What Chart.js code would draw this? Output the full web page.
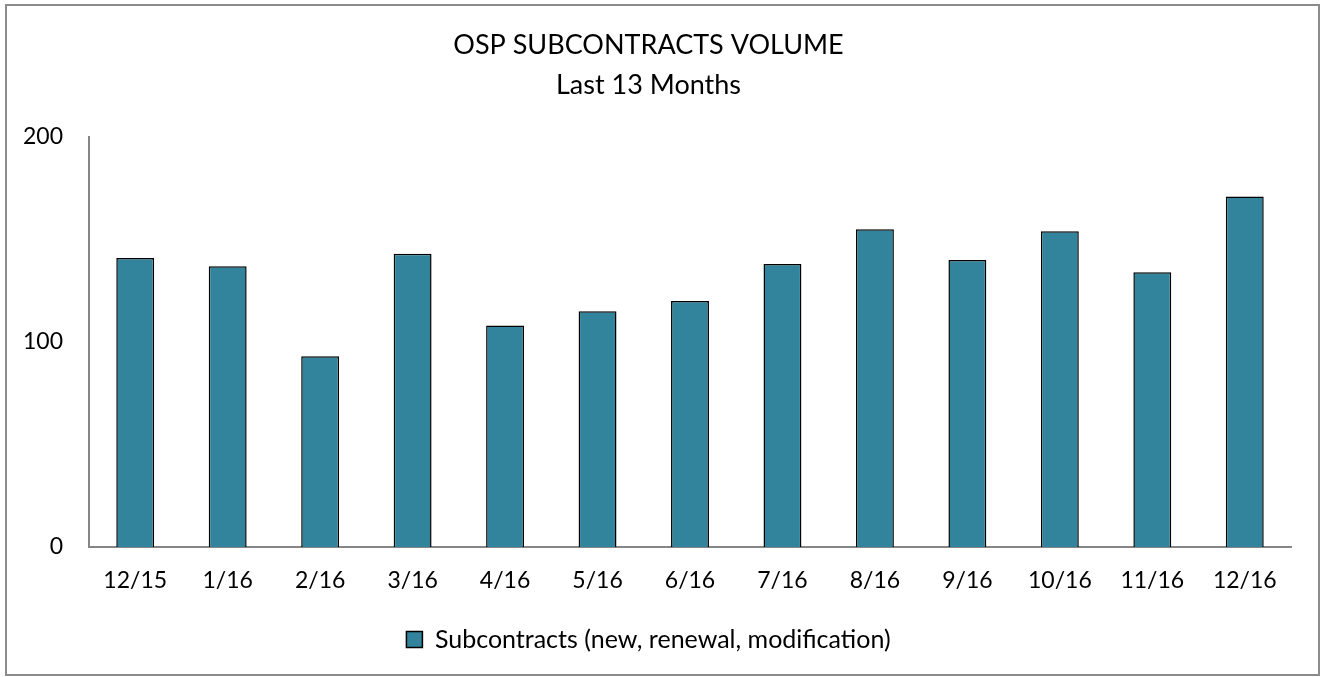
<!DOCTYPE html>
<html>
<head>
<meta charset="utf-8">
<script src="https://cdn.jsdelivr.net/npm/chart.js@4.4.1/dist/chart.umd.min.js"></script>
<style>
  html, body { margin: 0; padding: 0; background: #fff; }
  #wrap { position: relative; width: 1323px; height: 677px; }
</style>
</head>
<body>
<div id="wrap"><canvas id="c" width="1323" height="677"></canvas></div>
<script>
const categories = ['12/15','1/16','2/16','3/16','4/16','5/16','6/16','7/16','8/16','9/16','10/16','11/16','12/16'];
const subcontracts = [141, 137, 93, 143, 108, 115, 120, 138, 155, 140, 154, 134, 171];
const seriesLabel = 'Subcontracts (new, renewal, modification)';
const titleLines = ['OSP SUBCONTRACTS VOLUME', 'Last 13 Months'];
const yTicks = [0, 100, 200];

const FONT = 'Lato, "Open Sans", sans-serif';

const borderPlugin = {
  id: 'outerBorder',
  beforeDraw(chart) {
    const ctx = chart.ctx;
    ctx.save();
    ctx.fillStyle = '#ffffff';
    ctx.fillRect(0, 0, chart.width, chart.height);
    ctx.strokeStyle = '#8c8c8c';
    ctx.lineWidth = 2;
    ctx.strokeRect(6, 5, 1313, 670);
    ctx.restore();
  }
};

new Chart(document.getElementById('c'), {
  type: 'bar',
  data: {
    labels: categories,
    datasets: [{
      label: seriesLabel,
      data: subcontracts,
      backgroundColor: '#31849B',
      borderColor: '#000000',
      borderWidth: 1.5,
      categoryPercentage: 1,
      barPercentage: 0.41
    }]
  },
  options: {
    responsive: false,
    animation: false,
    devicePixelRatio: 1,
    layout: { padding: { left: 6, right: 32, top: 0, bottom: 15 } },
    plugins: {
      title: {
        display: true,
        text: titleLines,
        color: '#000',
        font: { family: FONT, size: 27, weight: 'normal', lineHeight: 1.5 },
        padding: { top: 25, bottom: 31 }
      },
      legend: {
        display: true,
        position: 'bottom',
        labels: {
          color: '#000',
          font: { family: FONT, size: 25 },
          boxWidth: 16,
          boxHeight: 16,
          padding: 10
        }
      },
      tooltip: { enabled: false }
    },
    scales: {
      x: {
        grid: { display: false, drawTicks: false },
        border: { display: true, color: '#868686', width: 2 },
        ticks: { color: '#000', font: { family: FONT, size: 23 }, padding: 20, maxRotation: 0, autoSkip: false },
        afterFit(scale) { scale.height = 70; }
      },
      y: {
        min: 0,
        max: 200,
        afterBuildTicks(scale) { scale.ticks = yTicks.map(v => ({ value: v })); },
        grid: { display: false, drawTicks: false },
        border: { display: true, color: '#868686', width: 2 },
        ticks: { color: '#000', font: { family: FONT, size: 23 }, padding: 26 },
        afterFit(scale) { scale.width = 83; }
      }
    }
  },
  plugins: [borderPlugin]
});
</script>
</body>
</html>
